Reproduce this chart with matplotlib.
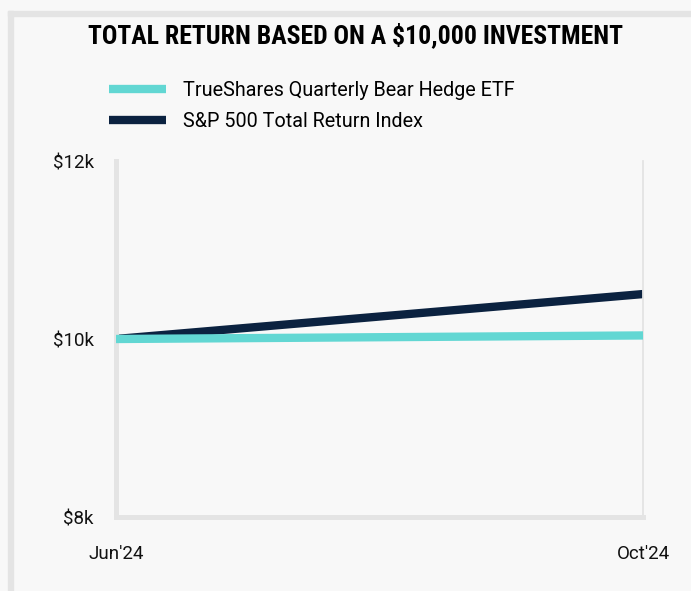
import matplotlib.pyplot as plt
from matplotlib.patches import Rectangle

# data
dates = ["Jun'24", "Oct'24"]
etf = [10000, 10040]
spx = [10000, 10505]
series_names = ["TrueShares Quarterly Bear Hedge ETF", "S&P 500 Total Return Index"]
y_ticks = [8000, 10000, 12000]
y_labels = ["$8k", "$10k", "$12k"]

bg = "#F8F8F8"
teal = "#62D7D3"
navy = "#0B2240"
grey = "#E4E4E4"
tick_font = ["Roboto", "DejaVu Sans"]
legend_font = ["Roboto", "DejaVu Sans"]
title_font = ["Roboto Condensed", "DejaVu Sans"]

fig = plt.figure(figsize=(6.91, 5.91), dpi=100, facecolor=bg)

# card border (left + top edges visible)
fig.patches.append(Rectangle((8 / 691, -0.1), 5 / 691, 1.1 - 11 / 591,
                             transform=fig.transFigure, color=grey, zorder=0))
fig.patches.append(Rectangle((8 / 691, 1 - 16 / 591), 1.0, 5 / 591,
                             transform=fig.transFigure, color=grey, zorder=0))

ax = fig.add_axes([116 / 691, 1 - 517 / 591, (643 - 116) / 691, (517 - 161) / 591])
ax.set_facecolor(bg)

x = list(range(len(dates)))
l1, = ax.plot(x, etf, color=teal, lw=6, solid_capstyle="butt", zorder=3)
l2, = ax.plot(x, spx, color=navy, lw=6, solid_capstyle="butt", zorder=2)

ax.set_xlim(0, len(dates) - 1)
ax.set_ylim(8000, 12000)
ax.set_yticks(y_ticks)
ax.set_yticklabels(y_labels, family=tick_font)
ax.set_xticks(x)
ax.set_xticklabels(dates, family=tick_font)
ax.tick_params(length=0, labelsize=13.5, colors="#111111")
ax.tick_params(axis="y", pad=16)
ax.tick_params(axis="x", pad=20)

for s in ["left", "bottom"]:
    ax.spines[s].set_color(grey)
    ax.spines[s].set_linewidth(3.6)
ax.spines["right"].set_color(grey)
ax.spines["right"].set_linewidth(1.3)
ax.spines["top"].set_visible(False)

fig.text(356 / 691, 1 - 35 / 591, "TOTAL RETURN BASED ON A $10,000 INVESTMENT",
         ha="center", va="center", fontsize=18.5, fontweight="bold",
         family=title_font, color="black")

leg = fig.legend([l1, l2], series_names, loc="upper left",
                 bbox_to_anchor=(91 / 691, 1 - 63 / 591), frameon=False,
                 handlelength=2.9, handletextpad=0.85, labelspacing=0.6,
                 prop={"family": legend_font, "size": 14.2})
for h in leg.get_lines():
    h.set_linewidth(6)

fig.savefig("out.png", dpi=100, facecolor=bg)
